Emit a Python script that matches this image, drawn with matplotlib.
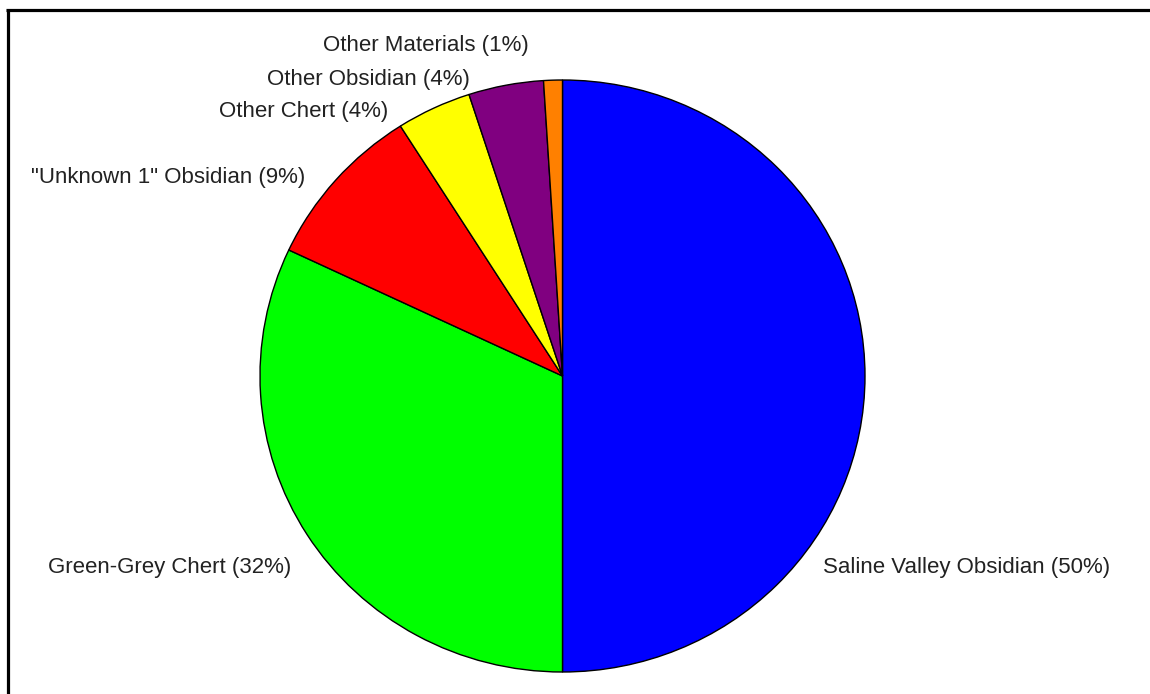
import matplotlib
matplotlib.use("Agg")
import matplotlib.pyplot as plt
from matplotlib.lines import Line2D

# Lithic material composition
materials = [
    "Saline Valley Obsidian",
    "Green-Grey Chert",
    "\"Unknown 1\" Obsidian",
    "Other Chert",
    "Other Obsidian",
    "Other Materials",
]
percentages = [50, 32, 9, 4, 4, 1]
colors = ["#0000FF", "#00FF00", "#FF0000", "#FFFF00", "#800080", "#FF8000"]

W, H = 1150, 694
fig = plt.figure(figsize=(W / 100, H / 100), dpi=100)
fig.patch.set_facecolor("white")

# pie area in pixel box (left, top, right, bottom)
px_l, px_t, px_r, px_b = 260, 80, 865, 672
ax = fig.add_axes([px_l / W, 1 - px_b / H, (px_r - px_l) / W, (px_b - px_t) / H])
ax.pie(percentages, colors=colors, startangle=90, counterclock=False,
       radius=1.0, wedgeprops=dict(edgecolor="black", linewidth=1.0))
ax.set_aspect("auto")
ax.set_xlim(-1, 1)
ax.set_ylim(-1, 1)
ax.axis("off")

# label anchors in pixels: (x, y, horizontal alignment)
label_pos = [
    (823, 567, "left"),
    (291, 567, "right"),
    (305, 178, "right"),
    (388, 111, "right"),
    (470, 79, "right"),
    (529, 46, "right"),
]
for name, pct, (x, y, ha) in zip(materials, percentages, label_pos):
    fig.text(x / W, 1 - y / H, f"{name} ({pct}%)", ha=ha, va="center",
             fontsize=16, family=["Liberation Sans", "DejaVu Sans"],
             color="#222222")

# frame lines along the top and left edges
fig.add_artist(Line2D([6 / W, 1.0], [1 - 9.5 / H, 1 - 9.5 / H],
                      transform=fig.transFigure, color="black", linewidth=2.3,
                      solid_capstyle="butt"))
fig.add_artist(Line2D([7.5 / W, 7.5 / W], [1 - 8.5 / H, 0.0],
                      transform=fig.transFigure, color="black", linewidth=2.3,
                      solid_capstyle="butt"))

fig.savefig("out.png", dpi=100, facecolor="white")
